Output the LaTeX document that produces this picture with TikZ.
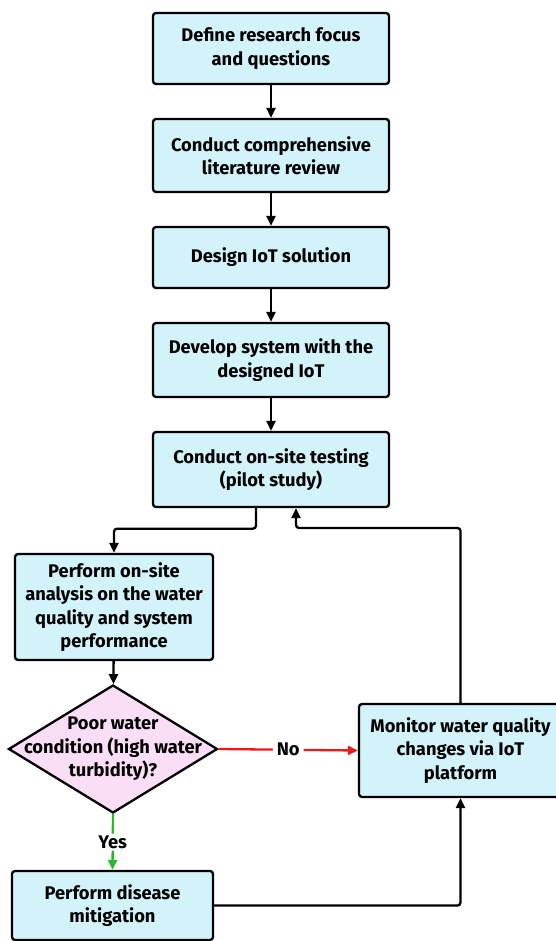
\documentclass[tikz,border=0pt]{standalone}
\usepackage{fontspec}
\setmainfont{Fira Sans}
\usetikzlibrary{arrows.meta,shapes.geometric}
\definecolor{boxcyan}{RGB}{210,243,250}
\definecolor{diapink}{RGB}{249,222,246}
\definecolor{noRed}{RGB}{235,25,25}
\definecolor{yesGreen}{RGB}{40,185,40}

\begin{document}
\begin{tikzpicture}[x=1pt, y=-1pt, >={Triangle[length=10pt,width=9pt]},
	every node/.style={font=\fontsize{18.3}{23.5}\selectfont\bfseries, align=center},
	stepbox/.style={draw, line width=2.3pt, rounded corners=3pt, fill=boxcyan, inner sep=0pt},
	decbox/.style={diamond, draw, line width=2.3pt, fill=diapink, inner sep=0pt},
	link/.style={->, line width=2.3pt, rounded corners=3pt}]
		\useasboundingbox (0,0) rectangle (556,941);
		
		% Nodes
		\node[stepbox, minimum width=236pt, minimum height=71pt] (focus) at (271,48.5) {Define research focus\\and questions};
		\node[stepbox, minimum width=236pt, minimum height=73pt] (review) at (271,155.5) {Conduct comprehensive\\literature review};
		\node[stepbox, minimum width=236pt, minimum height=61pt] (design) at (271,257.5) {Design IoT solution};
		\node[stepbox, minimum width=236pt, minimum height=74pt] (develop) at (271,360) {Develop system with the\\designed IoT};
		\node[stepbox, minimum width=236pt, minimum height=75pt] (testing) at (271,469.5) {Conduct on-site testing\\(pilot study)};
		\node[stepbox, minimum width=198pt, minimum height=106pt] (analysis) at (114,607) {Perform on-site\\analysis on the water\\quality and system\\performance};
		\node[decbox, minimum width=209pt, minimum height=128pt] (decide) at (113,749) {};
		\node (decidetext) at (decide.center) {Poor water\\condition (high water\\turbidity)?};
		\node[stepbox, minimum width=203pt, minimum height=93pt] (monitor) at (460.5,750.5) {Monitor water quality\\changes via IoT\\platform};
		\node[stepbox, minimum width=201pt, minimum height=69pt] (mitigate) at (112.5,905.5) {Perform disease\\mitigation};
		\coordinate (back) at (460.5,528);
		
		% Edges
		\draw[link] (focus) -- (review);
		\draw[link] (review) -- (design);
		\draw[link] (design) -- (develop);
		\draw[link] (develop) -- (testing);
		\draw[link] ([xshift=-15pt]testing.south) -- ++(0,20.5) -| (analysis.north);
		\draw[link] (analysis) -- (decide);
		\draw[link, noRed] (decide.east) -- node[fill=white, text=black, inner sep=4pt] {No} (monitor.west);
		\draw[link, yesGreen] (decide.south) -- node[fill=white, text=black, inner sep=2pt] {Yes} (mitigate.north);
		\draw[link] (mitigate.east) -| (monitor.south);
		\draw[link] (monitor.north) -- (back) -| ([xshift=25pt]testing.south);
		
	\end{tikzpicture}
\end{document}
